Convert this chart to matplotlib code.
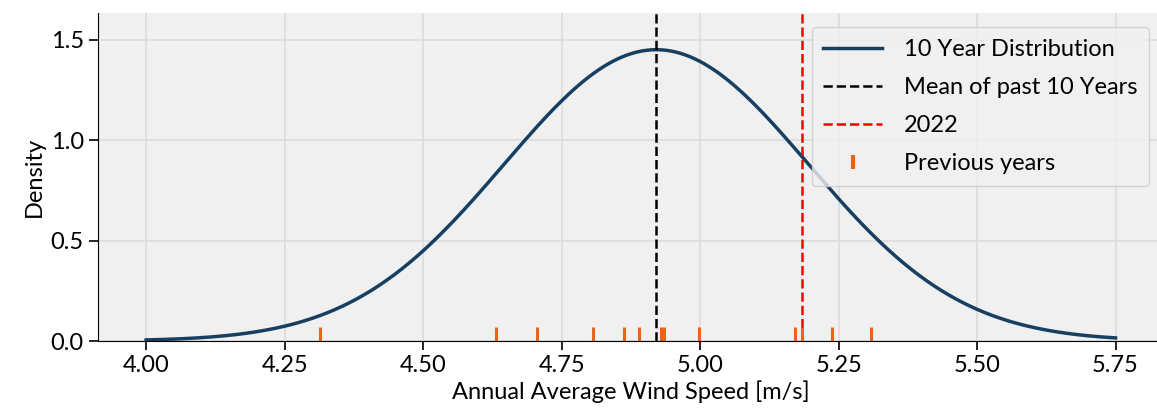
import numpy as np
import matplotlib
matplotlib.use("Agg")
import matplotlib.pyplot as plt
from matplotlib.lines import Line2D

# annual average wind speeds
years_speed = [4.313, 4.632, 4.705, 4.806, 4.862, 4.889, 4.930, 4.934,
               4.998, 5.172, 5.184, 5.239, 5.308]
speed_2022 = 5.184
x_ticks = [4.00, 4.25, 4.50, 4.75, 5.00, 5.25, 5.50, 5.75]
y_ticks = [0.0, 0.5, 1.0, 1.5]

plt.rcParams['font.family'] = ['Lato', 'DejaVu Sans']
fs = 17

mu = np.mean(years_speed)
sd = np.std(years_speed, ddof=1)
xs = np.linspace(4.0, 5.75, 400)
pdf = np.exp(-0.5 * ((xs - mu) / sd) ** 2) / (sd * np.sqrt(2 * np.pi))

fig = plt.figure(figsize=(11.57, 4.19), dpi=100)
ax = fig.add_axes([97.7 / 1157, 1 - 341 / 419, (1164 - 97.7) / 1157, 328 / 419])
ax.set_facecolor('#f0f0f0')
ax.grid(True, color='#dcdcdc', lw=1.2)
ax.set_axisbelow(True)
for s in ['top', 'right']:
    ax.spines[s].set_visible(False)

ax.plot(xs, pdf, color='#173f62', lw=2.5, label='10 Year Distribution')
ax.axvline(mu, color='black', ls='--', lw=1.8, label='Mean of past 10 Years')
ax.axvline(speed_2022, color='red', ls='--', lw=1.8, label='2022')
ax.vlines(years_speed, 0, 0.07, color='#e8641a', lw=2.2)

ax.set_xlim(3.9125, 5.8375)
ax.set_ylim(0, 1.634)
ax.set_xticks(x_ticks)
ax.set_xticklabels([f"{t:.2f}" for t in x_ticks])
ax.set_yticks(y_ticks)
ax.tick_params(length=6.5, width=1.2, labelsize=fs)
ax.set_xlabel('Annual Average Wind Speed [m/s]', fontsize=fs, labelpad=3)
ax.set_ylabel('Density', fontsize=fs, labelpad=4)

handles, labels = ax.get_legend_handles_labels()
handles.append(Line2D([], [], color='#e8641a', marker='|', ls='none', ms=10, mew=3))
labels.append('Previous years')
ax.legend(handles, labels, loc='upper right', bbox_to_anchor=(1149 / 1157, 1 - 27 / 419),
          bbox_transform=fig.transFigure, fontsize=fs, framealpha=0.8,
          facecolor='#f0f0f0', edgecolor='#cccccc', handlelength=2.5,
          handletextpad=0.9, labelspacing=0.72, borderpad=0.5, borderaxespad=0)

fig.savefig('out.png', dpi=100)
